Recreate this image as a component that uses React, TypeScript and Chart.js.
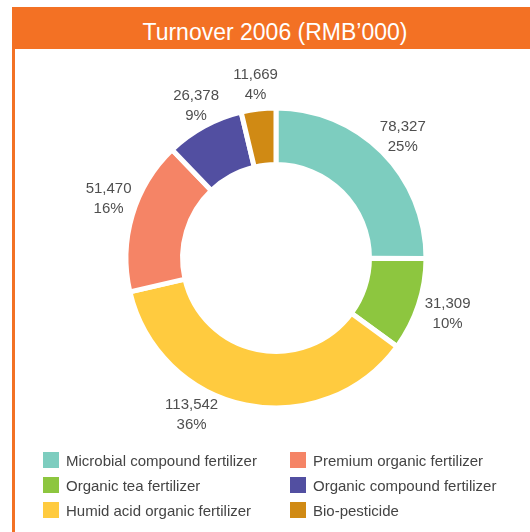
import React, { useEffect, useRef } from "react";
import { Chart, registerables } from "chart.js";

Chart.register(...registerables);

const title = "Turnover 2006 (RMB’000)";
const categories = [
  "Microbial compound fertilizer",
  "Organic tea fertilizer",
  "Humid acid organic fertilizer",
  "Premium organic fertilizer",
  "Organic compound fertilizer",
  "Bio-pesticide",
];
const values = [78327, 31309, 113542, 51470, 26378, 11669];
const percentLabels = ["25%", "10%", "36%", "16%", "9%", "4%"];
const colors = ["#7DCDBF", "#8DC63F", "#FFCB3F", "#F58466", "#524FA1", "#D08A14"];
// legend grid: column-major, 3 rows x 2 columns
const legendColumns = [
  [0, 1, 2],
  [3, 4, 5],
];

const ORANGE = "#F37124";
const FONT = '"Liberation Sans", Arial, sans-serif';

const outerLabels = {
  id: "outerLabels",
  afterDatasetsDraw(chart: any, _args: any, opts: any) {
    const ctx = chart.ctx;
    const meta = chart.getDatasetMeta(0);
    meta.data.forEach((arc: any, i: number) => {
      const p = arc.getProps(["x", "y", "startAngle", "endAngle", "outerRadius"], true);
      const nudge = ((opts.nudge && opts.nudge[i]) || 0) * Math.PI / 180;
      const mid = (p.startAngle + p.endAngle) / 2 + nudge;
      const r = p.outerRadius + opts.offset[i];
      const cx = p.x + Math.cos(mid) * r;
      const cy = p.y + Math.sin(mid) * r + 1;
      ctx.save();
      ctx.font = `15px ${FONT}`;
      ctx.fillStyle = "#4f4f4f";
      ctx.textAlign = "center";
      ctx.textBaseline = "middle";
      ctx.fillText(values[i].toLocaleString("en-US"), cx, cy - 10);
      ctx.fillText(percentLabels[i], cx, cy + 10);
      ctx.restore();
    });
  },
};

export default function App() {
  const ref = useRef<HTMLCanvasElement | null>(null);

  useEffect(() => {
    if (!ref.current) return;
    const chart = new Chart(ref.current, {
      type: "doughnut",
      data: {
        labels: categories,
        datasets: [
          {
            data: values,
            backgroundColor: colors,
            borderColor: "#ffffff",
            borderWidth: 5,
            hoverOffset: 0,
          },
        ],
      },
      options: {
        responsive: false,
        animation: false,
        cutout: "62.3%",
        layout: { padding: 47.5 },
        plugins: {
          legend: { display: false },
          tooltip: { enabled: false },
          outerLabels: {
            offset: [26, 30, 27.5, 28, 23, 25],
            nudge: [1, -0.6, 16.8, 3.3, 1.1, 0],
          },
        } as any,
      },
      plugins: [outerLabels],
    });
    return () => chart.destroy();
  }, []);

  return (
    <div style={{ position: "absolute", left: 0, top: 0, width: 530, height: 532, background: "#fff", overflow: "hidden", fontFamily: FONT }}>
      <div style={{ position: "absolute", left: 12, top: 7, width: 518, height: 42, background: ORANGE }}>
        <div style={{ position: "absolute", left: 8, right: 0, top: 4, height: 42, lineHeight: "42px", textAlign: "center", color: "#fff", fontSize: 23 }}>
          {title}
        </div>
      </div>
      <div style={{ position: "absolute", left: 12, top: 49, width: 3, height: 483, background: ORANGE }} />
      <canvas ref={ref} width={500} height={400} style={{ position: "absolute", left: 26, top: 58, width: 500, height: 400 }} />
      {legendColumns.map((col, ci) =>
        col.map((idx, ri) => (
          <div key={idx} style={{ position: "absolute", left: ci === 0 ? 43 : 290, top: 452 + ri * 25, height: 16, display: "flex", alignItems: "center" }}>
            <div style={{ width: 16, height: 16, background: colors[idx] }} />
            <div style={{ marginLeft: 7, fontSize: 15, color: "#444", lineHeight: "16px", whiteSpace: "nowrap", position: "relative", top: 1 }}>
              {categories[idx]}
            </div>
          </div>
        ))
      )}
    </div>
  );
}
